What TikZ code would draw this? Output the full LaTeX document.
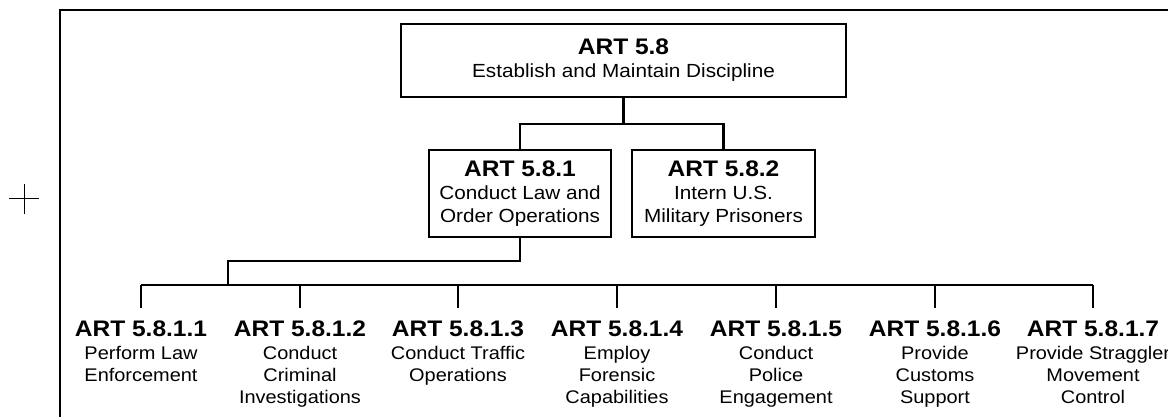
\documentclass[tikz,border=0pt]{standalone}
\usepackage{fontspec}
\setmainfont{Liberation Sans}[FakeStretch=1.09]
\usetikzlibrary{positioning}
\newcommand*{\ArtTitle}[1]{{\fontsize{22.5}{22.5}\selectfont\bfseries #1}}
\tikzset{
	artbox/.style={draw, line width=2.4pt, align=center, inner sep=0pt, font=\fontsize{19}{23}\selectfont},
	leaf/.style={align=center, anchor=north, inner xsep=0pt, inner ysep=13pt, font=\fontsize{18.3}{22.3}\selectfont},
	link/.style={line width=2.4pt},
}

\begin{document}
\begin{tikzpicture}[x=1pt,y=-1pt]
	\useasboundingbox (0,0) rectangle (1168,417);

	%Frame and mark
	\draw[line width=2.8pt] (60,417) -- (60,10) -- (1168,10);
	\draw[line width=1pt] (9,199) -- (39,199) (24,184) -- (24,214);

	%Boxes
	\node[artbox, minimum width=445pt, minimum height=73pt] (art58) at (623.5,60.5) {\ArtTitle{ART 5.8}\\Establish and Maintain Discipline};
	\node[artbox, minimum width=182pt, minimum height=87pt] (art581) at (520,193.5) {\ArtTitle{ART 5.8.1}\\Conduct Law and\\Order Operations};
	\node[artbox, minimum width=183pt, minimum height=87pt] (art582) at (723.5,193.5) {\ArtTitle{ART 5.8.2}\\Intern U.S.\\Military Prisoners};

	%Leaves
	\foreach \i/\x/\txt in {1/141/{Perform Law\\Enforcement}, 2/300/{Conduct\\Criminal\\Investigations}, 3/458/{Conduct Traffic\\Operations}, 4/617/{Employ\\Forensic\\Capabilities}, 5/776/{Conduct\\Police\\Engagement}, 6/935/{Provide\\Customs\\Support}, 7/1093/{Provide Straggler\\Movement\\Control}}
	{
		\node[leaf] (art581\i) at (\x,308) {\ArtTitle{ART 5.8.1.\i}\\\txt};
	}

	%Connectors
	\coordinate (bus) at (228,285);
	\draw[link] (art58.south) -- ++(0,26) coordinate (split) -| (art581.north);
	\draw[link] (split) -| (art582.north);
	\draw[link] (art581.south) -- ++(0,23) -| (bus);
	\draw[link] (art5811.north |- bus) -- (art5817.north |- bus);
	\foreach \i in {1,2,...,7}
	{
		\draw[link] (art581\i.north |- bus) -- (art581\i.north);
	}
\end{tikzpicture}
\end{document}
